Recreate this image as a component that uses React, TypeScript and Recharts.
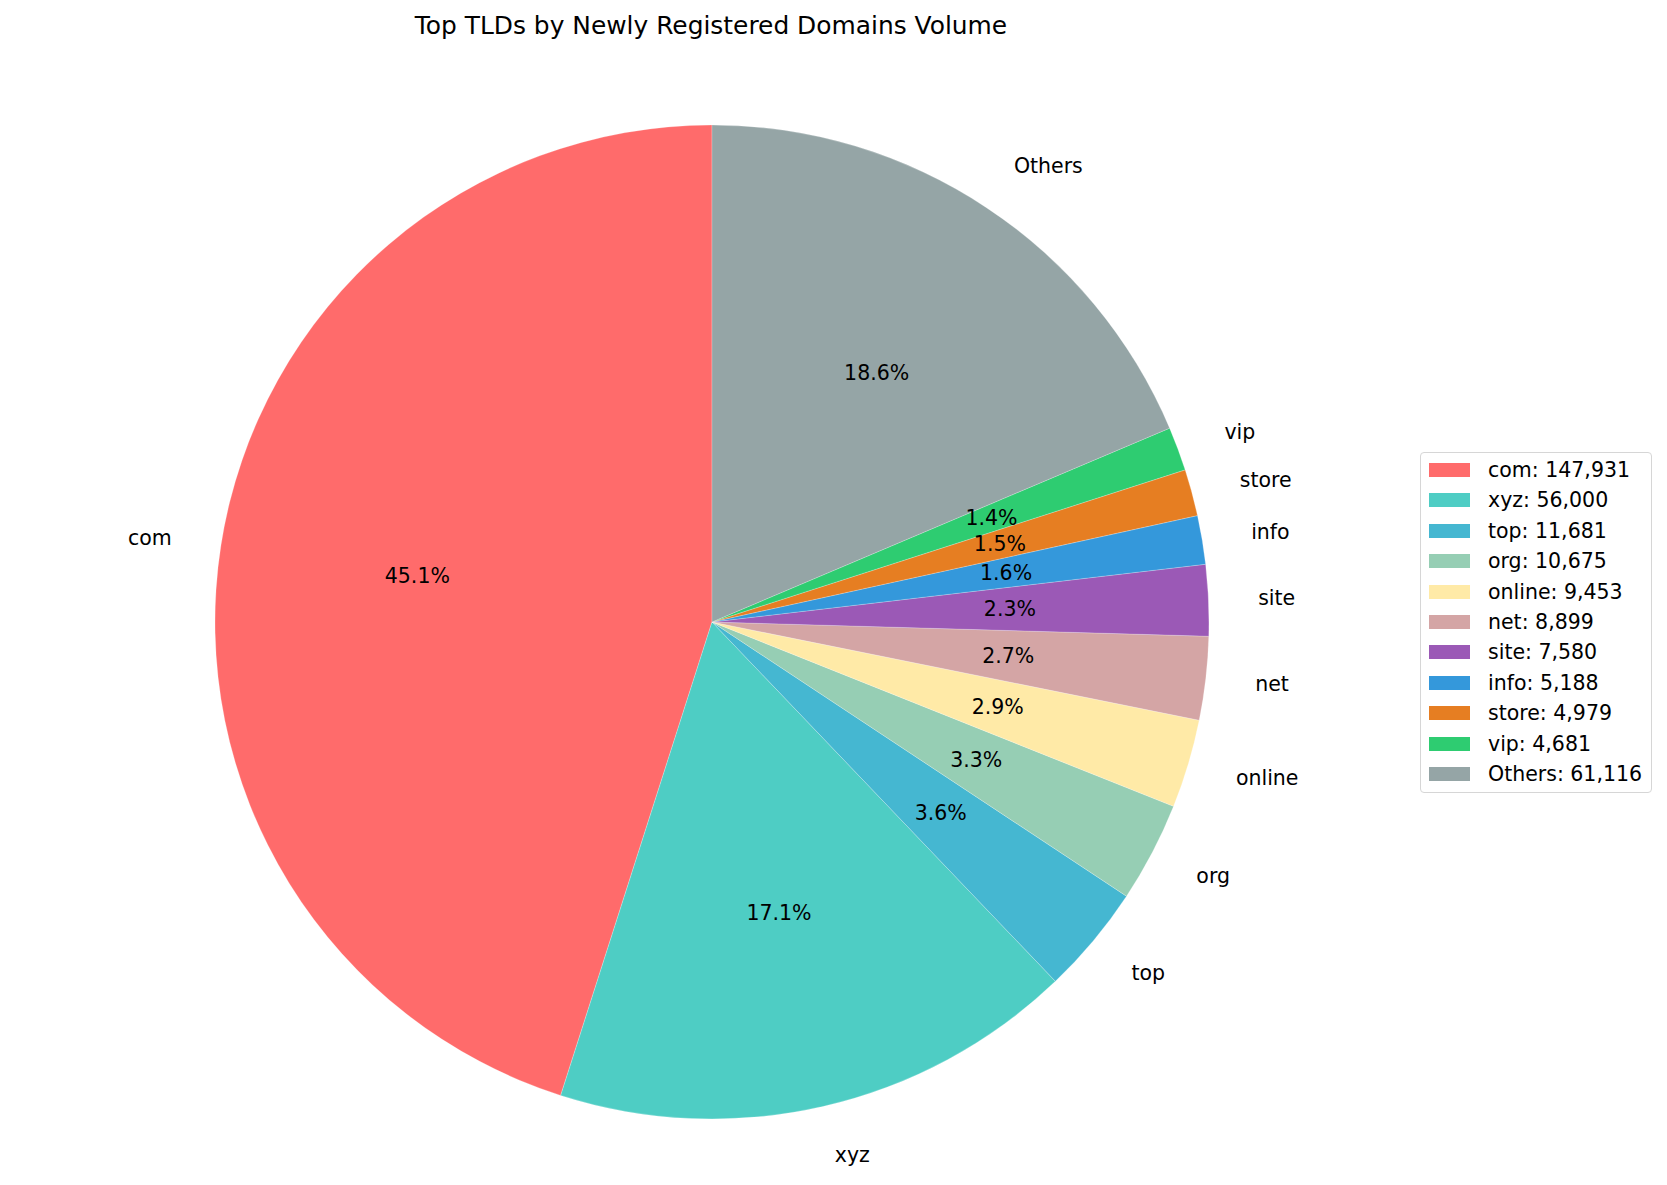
import React from "react";
import { PieChart, Pie, Cell, Legend } from "recharts";

const tlds = ["com", "xyz", "top", "org", "online", "net", "site", "info", "store", "vip", "Others"];
const volumes = [147931, 56000, 11681, 10675, 9453, 8899, 7580, 5188, 4979, 4681, 61116];
const colors = [
  "#FF6B6B",
  "#4ECDC4",
  "#45B7D1",
  "#96CEB4",
  "#FFEAA7",
  "#D4A5A5",
  "#9B59B6",
  "#3498DB",
  "#E67E22",
  "#2ECC71",
  "#95A5A6",
];

const data = tlds.map((name, i) => ({ name, value: volumes[i] }));

const FONT = "DejaVu Sans";
const RAD = Math.PI / 180;

// name outside the pie (1.1 r), percentage inside (0.6 r), like matplotlib
const renderLabel = (props: any) => {
  const { cx, cy, midAngle, outerRadius, percent, name } = props;
  const a = -midAngle * RAD;
  const lx = cx + outerRadius * 1.1 * Math.cos(a);
  const ly = cy + outerRadius * 1.1 * Math.sin(a);
  const px = cx + outerRadius * 0.6 * Math.cos(a);
  const py = cy + outerRadius * 0.6 * Math.sin(a);
  return (
    <g>
      <text
        x={lx}
        y={ly}
        textAnchor={lx > cx ? "start" : "end"}
        dominantBaseline="central"
        fontFamily={FONT}
        fontSize={20.5}
        fill="#000"
      >
        {name}
      </text>
      <text
        x={px}
        y={py}
        textAnchor="middle"
        dominantBaseline="central"
        fontFamily={FONT}
        fontSize={20.5}
        fill="#000"
      >
        {(percent * 100).toFixed(1)}%
      </text>
    </g>
  );
};

const renderLegend = () => (
  <div
    style={{
      position: "relative",
      width: 230,
      height: 339,
      border: "1px solid #d6d6d6",
      borderRadius: 4,
      background: "#fff",
      fontFamily: FONT,
      fontSize: 20.5,
      color: "#000",
    }}
  >
    {tlds.map((name, i) => (
      <div
        key={name}
        style={{
          position: "absolute",
          left: 0,
          top: 1.8 + i * 30.4,
          height: 30.4,
          display: "flex",
          alignItems: "center",
          whiteSpace: "nowrap",
        }}
      >
        <span
          style={{
            display: "inline-block",
            marginLeft: 8,
            width: 41,
            height: 14,
            background: colors[i],
          }}
        />
        <span style={{ marginLeft: 18 }}>
          {name}: {volumes[i].toLocaleString("en-US")}
        </span>
      </div>
    ))}
  </div>
);

export default function App() {
  return (
    <div style={{ position: "absolute", left: 0, top: 0, width: 1667, height: 1185, background: "#fff" }}>
      <PieChart width={1667} height={1185} margin={{ top: 0, right: 0, bottom: 0, left: 0 }}>
        <text
          x={711}
          y={34}
          textAnchor="middle"
          fontFamily={FONT}
          fontSize={24.9}
          fill="#000"
        >
          Top TLDs by Newly Registered Domains Volume
        </text>
        <Pie
          data={data}
          dataKey="value"
          nameKey="name"
          cx={712}
          cy={622}
          outerRadius={497}
          startAngle={90}
          endAngle={450}
          label={renderLabel}
          labelLine={false}
          stroke="rgba(255,255,255,0.45)"
          strokeWidth={0.5}
          isAnimationActive={false}
        >
          {data.map((d, i) => (
            <Cell key={d.name} fill={colors[i]} />
          ))}
        </Pie>
        <Legend
          content={renderLegend}
          wrapperStyle={{ position: "absolute", left: 1420, top: 452, width: 232, height: 341 }}
        />
      </PieChart>
    </div>
  );
}
